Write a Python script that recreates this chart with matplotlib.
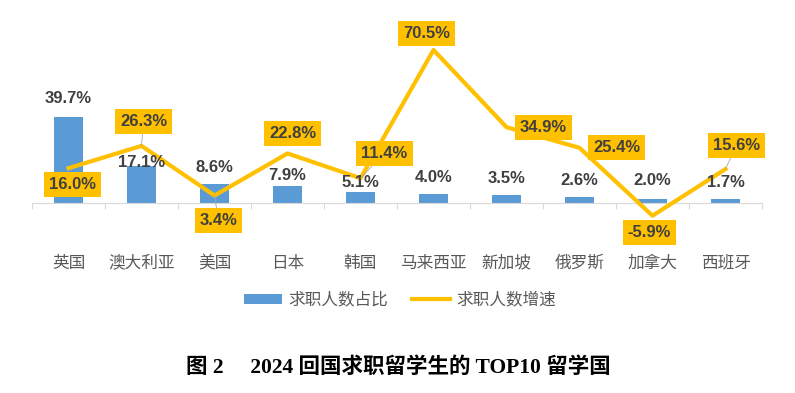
import numpy as np
import matplotlib.pyplot as plt
from matplotlib.patches import Patch
from matplotlib.lines import Line2D

plt.rcParams['font.family'] = ['Noto Sans CJK SC', 'DejaVu Sans']

countries = ['英国', '澳大利亚', '美国', '日本', '韩国', '马来西亚', '新加坡', '俄罗斯', '加拿大', '西班牙']
share = [39.7, 17.1, 8.6, 7.9, 5.1, 4.0, 3.5, 2.6, 2.0, 1.7]
growth = [16.0, 26.3, 3.4, 22.8, 11.4, 70.5, 34.9, 25.4, -5.9, 15.6]
series_names = ['求职人数占比', '求职人数增速']
caption = '图 2　 2024 回国求职留学生的 TOP10 留学国'

# label placement, in pixels (as laid out in the source chart)
share_dy = [18, 3, 17, 10, 9, 17, 17, 17, 18, 17]
growth_off = [(4, -16), (2, 24), (4, -25), (5, 20), (24, 25),
              (-7, 16), (37, 0), (37, 0), (-3, -17), (11, 24)]
leader = [False, True, True, False, True, False, False, False, False, True]

BLUE = '#5B9BD5'
GOLD = '#FFC000'
DARK = '#404040'
GREY = '#595959'

fig = plt.figure(figsize=(7.95, 3.93), dpi=100)
ax = fig.add_axes([32 / 795, 1 - 268 / 393, 730 / 795, (268 - 18.5) / 393])

x = np.arange(len(countries))
ax.bar(x, share, width=0.41, color=BLUE, zorder=2)
ax.plot(x, growth, color=GOLD, lw=3, zorder=3)
ax.set_xlim(-0.5, len(countries) - 0.5)
ax.set_ylim(-30, 85)

# axis: only a light baseline at zero with ticks between categories
for s in ['top', 'right', 'left']:
    ax.spines[s].set_visible(False)
ax.spines['bottom'].set_position(('data', 0))
ax.spines['bottom'].set_color('#d9d9d9')
ax.set_yticks([])
ax.set_xticks(np.arange(-0.5, len(countries), 1))
ax.set_xticklabels([])
ax.tick_params(axis='x', length=4, color='#d9d9d9')

for i, c in enumerate(countries):
    ax.text(i, 0.02, c, transform=ax.get_xaxis_transform(), ha='center', va='center',
            fontsize=12, color=GREY)

# bar value labels
for i, v in enumerate(share):
    ax.annotate(f'{v:.1f}%', (i, v), xytext=(0, share_dy[i]), textcoords='offset pixels',
                ha='center', va='center', fontsize=12, fontweight='bold', color=DARK,
                family='Liberation Sans', zorder=4)

# line value labels in yellow boxes
for i, v in enumerate(growth):
    arrow = dict(arrowstyle='-', color='#a6a6a6', lw=0.6, shrinkA=0, shrinkB=0) if leader[i] else None
    ax.annotate(f'{v:.1f}%', (i, v), xytext=growth_off[i], textcoords='offset pixels',
                ha='center', va='center', fontsize=12, fontweight='bold', color=DARK,
                family='Liberation Sans', zorder=5,
                bbox=dict(boxstyle='square,pad=0.3', fc=GOLD, ec='none'),
                arrowprops=arrow)

handles = [Patch(fc=BLUE), Line2D([], [], color=GOLD, lw=3)]
fig.legend(handles, series_names, loc='center', bbox_to_anchor=(400 / 795, 1 - 300 / 393),
           ncol=2, frameon=False, fontsize=12, labelcolor=GREY, handlelength=2.3,
           handleheight=0.55, columnspacing=1.4, handletextpad=0.4)

fig.text(398 / 795, 1 - 368 / 393, caption, ha='center', va='center', fontsize=15.5,
         fontweight='bold', color='black', family=['Liberation Serif', 'Noto Sans CJK SC'])

fig.savefig('out.png', dpi=100, facecolor='white')
